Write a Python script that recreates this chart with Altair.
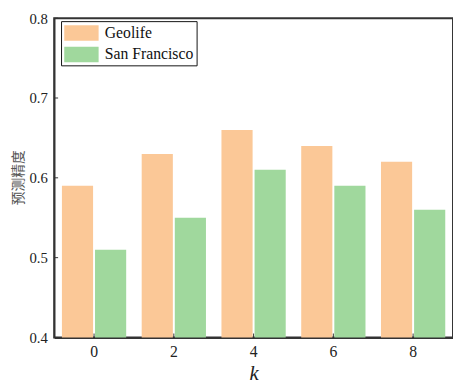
import altair as alt
import pandas as pd

k_labels = ["0", "2", "4", "6", "8"]
series = ["Geolife", "San Francisco"]
geolife = [0.59, 0.63, 0.66, 0.64, 0.62]
sanfran = [0.51, 0.55, 0.61, 0.59, 0.56]
y_ticks = [0.4, 0.5, 0.6, 0.7, 0.8]
colors = ["#FBC897", "#A0D89D"]

rows = []
for i, k in enumerate(k_labels):
    rows.append({"k": k, "series": series[0], "v": geolife[i]})
    rows.append({"k": k, "series": series[1], "v": sanfran[i]})
df = pd.DataFrame(rows)
ytick_df = pd.DataFrame({"v": y_ticks})
xtick_df = pd.DataFrame({"k": k_labels})

serif = "Liberation Serif"

x = alt.X(
    "k:N", sort=k_labels,
    scale=alt.Scale(paddingInner=0, paddingOuter=0),
    axis=alt.Axis(
        title="k", labelAngle=0, ticks=False,
        labelFont=serif, labelFontSize=16, labelColor="#222", labelPadding=6,
        titleFont=serif, titleFontStyle="italic", titleFontSize=21,
        titleFontWeight="normal", titleColor="#222",
        titleBaseline="alphabetic", titleY=43,
        domainColor="#333", domainWidth=2,
    ),
)
y = alt.Y(
    "v:Q",
    scale=alt.Scale(domain=[0.4, 0.8], nice=False, zero=False),
    axis=alt.Axis(
        values=y_ticks, format=".1f", ticks=False, grid=False,
        labelFont=serif, labelFontSize=15, labelColor="#222", labelPadding=7,
        title="预测精度", titleFont="Noto Sans CJK SC", titleFontSize=14,
        titleFontWeight="normal", titleColor="#555", titleAngle=270,
        titleX=-36, titleY=162, titleAlign="center", titleBaseline="middle",
        domainColor="#333", domainWidth=1.5,
    ),
)
color = alt.Color(
    "series:N",
    scale=alt.Scale(domain=series, range=colors),
    legend=alt.Legend(
        title=None, orient="none", legendX=7, legendY=3,
        symbolType="M-1,-0.9H3V0.9H-1Z", symbolSize=306,
        symbolStrokeWidth=0, symbolOpacity=1,
        labelFont=serif, labelFontSize=16, labelColor="#111", labelOffset=23.5,
        padding=3, strokeColor="#111", fillColor="white", rowPadding=5,
    ),
)

bars = alt.Chart(df).mark_bar(clip=True).encode(
    x=x,
    xOffset=alt.XOffset("series:N", sort=series,
                        scale=alt.Scale(paddingInner=0.059, paddingOuter=0.234)),
    y=y,
    color=color,
)
yt = alt.Chart(ytick_df).mark_rule(color="#333", strokeWidth=1).encode(
    y=y, x=alt.value(0), x2=alt.value(4)
)
xt = alt.Chart(xtick_df).mark_rule(color="#333", strokeWidth=1).encode(
    x=x, y=alt.value(325), y2=alt.value(321)
)

chart = alt.layer(bars, yt, xt).properties(
    width=406, height=325,
    padding={"left": 47, "top": 7, "right": 0, "bottom": 44},
    autosize=alt.AutoSizeParams(type="none"),
).configure_view(stroke="#333", strokeWidth=2)

chart.save("out.html", embed_options={"renderer": "svg", "actions": False})
